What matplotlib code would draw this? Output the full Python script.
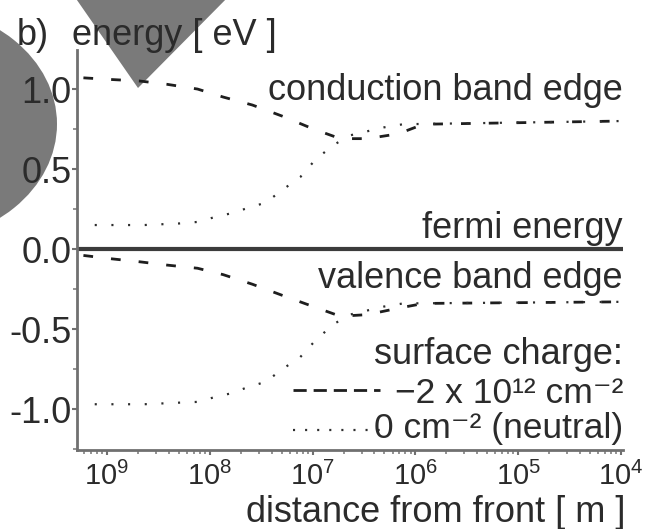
import matplotlib
matplotlib.use("Agg")
import matplotlib.pyplot as plt
from matplotlib.lines import Line2D
from matplotlib.patches import Circle, Polygon
from matplotlib.ticker import FixedLocator, FixedFormatter, LogLocator, AutoMinorLocator

plt.rcParams['font.family'] = ['Liberation Sans', 'DejaVu Sans']
plt.rcParams['lines.scale_dashes'] = False

# charged surface (-2e12 cm^-2), dashed curves
dist_charged = [5.9e-10, 1.07e-9, 2.1e-9, 3.8e-9, 7.6e-9, 1.35e-8, 2.6e-8, 5.1e-8,
                1.02e-7, 1.86e-7, 3.4e-7, 6.8e-7, 1.2e-6, 1.0e-4]
cb_charged = [1.07, 1.06, 1.05, 1.03, 1.00, 0.95, 0.90, 0.83, 0.75, 0.69, 0.69, 0.72, 0.78, 0.80]
vb_charged = [-0.04, -0.06, -0.08, -0.10, -0.12, -0.16, -0.22, -0.29, -0.36, -0.42, -0.41, -0.37, -0.34, -0.33]

# neutral surface, dotted curves
dist_neutral = [7.6e-10, 1.15e-9, 2.3e-9, 5.1e-9, 7.8e-9, 1.12e-8, 1.66e-8, 2.3e-8, 3.5e-8,
                5.1e-8, 7.6e-8, 1.07e-7, 1.6e-7, 2.3e-7, 4.9e-7, 7.6e-7, 1.0e-4]
cb_neutral = [0.15, 0.15, 0.15, 0.16, 0.17, 0.20, 0.225, 0.255, 0.29, 0.37, 0.45, 0.56,
              0.65, 0.71, 0.76, 0.78, 0.80]
vb_neutral = [-0.97, -0.97, -0.97, -0.96, -0.955, -0.925, -0.90, -0.865, -0.83, -0.75,
              -0.675, -0.57, -0.47, -0.41, -0.36, -0.34, -0.33]

fermi_level = 0.0
xtick_pos = [1e-9, 1e-8, 1e-7, 1e-6, 1e-5, 1e-4]
xtick_labels = [r'$\mathregular{10^{9}}$', r'$\mathregular{10^{8}}$', r'$\mathregular{10^{7}}$',
                r'$\mathregular{10^{6}}$', r'$\mathregular{10^{5}}$', r'$\mathregular{10^{4}}$']
ytick_pos = [-1.0, -0.5, 0.0, 0.5, 1.0]
ytick_labels = ['-1.0', '-0.5', '0.0', '0.5', '1.0']
legend_labels = ['\u22122 x 10\u00b9\u00b2 cm\u207b\u00b2',
                 '0 cm\u207b\u00b2 (neutral)']

TXT = '#2b2b2b'
FS = 26

W, H = 652, 529
fig = plt.figure(figsize=(W / 100, H / 100), dpi=100)

# grey blobs from the scan
fig.patches.append(Circle((-89 / W, 1 - 124 / H), 146 / W, transform=fig.transFigure,
                          facecolor='#7a7a7a', edgecolor='none', zorder=-1))
fig.patches.append(Polygon([(70 / W, 1 + 10 / H), (235 / W, 1 + 10 / H), (138 / W, 1 - 88 / H)],
                           closed=True, transform=fig.transFigure,
                           facecolor='#7a7a7a', edgecolor='none', zorder=-1))

ax = fig.add_axes([77 / W, 79 / H, 546 / W, 400 / H])
ax.patch.set_visible(False)

ax.axhline(fermi_level, color='#3c3c3c', lw=3.0, zorder=2)
dash_kw = dict(color='#1e1e1e', lw=2.0, dashes=(7, 13), dash_capstyle='butt')
dot_kw = dict(color='#2e2e2e', lw=1.6, dashes=(1.5, 10.5), dash_capstyle='butt')
ax.plot(dist_charged, cb_charged, **dash_kw)
ax.plot(dist_charged, vb_charged, **dash_kw)
ax.plot(dist_neutral, cb_neutral, **dot_kw)
ax.plot(dist_neutral, vb_neutral, **dot_kw)

ax.set_xscale('log')
ax.set_xlim(5.11e-10, 1.047e-4)
ax.set_ylim(-1.256, 1.244)

ax.xaxis.set_major_locator(FixedLocator(xtick_pos))
ax.xaxis.set_major_formatter(FixedFormatter(xtick_labels))
ax.xaxis.set_minor_locator(LogLocator(base=10, subs=range(2, 10), numticks=20))
ax.yaxis.set_major_locator(FixedLocator(ytick_pos))
ax.yaxis.set_major_formatter(FixedFormatter(ytick_labels))
ax.yaxis.set_minor_locator(AutoMinorLocator(2))

for s in ['top', 'right']:
    ax.spines[s].set_visible(False)
for s in ['left', 'bottom']:
    ax.spines[s].set_color('#707070')
    ax.spines[s].set_linewidth(2.0)

ax.tick_params(which='major', direction='out', length=3.5, width=1.5, color='#707070',
               labelsize=FS, labelcolor=TXT, pad=0.5)
ax.tick_params(axis='x', which='major', labelsize=21, pad=5)
ax.tick_params(which='minor', direction='out', length=3, width=1.2, color='#808080')

txt_kw = dict(transform=ax.transAxes, ha='right', va='baseline', fontsize=FS, color=TXT)
ax.text(1.0, 0.875, 'conduction band edge', **txt_kw)
ax.text(1.0, 0.53, 'fermi energy', **txt_kw)
ax.text(1.0, 0.405, 'valence band edge', **txt_kw)
ax.text(1.0, 0.215, 'surface charge:', **txt_kw)
row_kw = dict(txt_kw, fontsize=25.5)
ax.text(1.0, 0.1175, legend_labels[0], **row_kw)
ax.text(1.0, 0.03, legend_labels[1], **row_kw)

# legend keys only, the labels are right-aligned texts above
key_ch = Line2D([], [], color='#1e1e1e', lw=2.0, dashes=(9.5, 5), dash_capstyle='butt')
key_ne = Line2D([], [], color='#2e2e2e', lw=1.6, dashes=(1.5, 7.2), dash_capstyle='butt')
ax.legend([key_ch, key_ne], ['', ''], fontsize=FS, loc='upper left',
          bbox_to_anchor=(216 / 546, 0.185), frameon=False, borderpad=0,
          borderaxespad=0, handlelength=2.42, handletextpad=0, labelspacing=0.12)

fig.text(17 / W, 1 - 45 / H, 'b)', fontsize=FS, color=TXT, ha='left', va='baseline')
fig.text(72 / W, 1 - 45 / H, 'energy [ eV ]', fontsize=FS, color=TXT, ha='left', va='baseline')
fig.text(625 / W, 1 - 522 / H, 'distance from front [ m ]', fontsize=FS, color=TXT,
         ha='right', va='baseline')

fig.savefig('out.png', dpi=100)
